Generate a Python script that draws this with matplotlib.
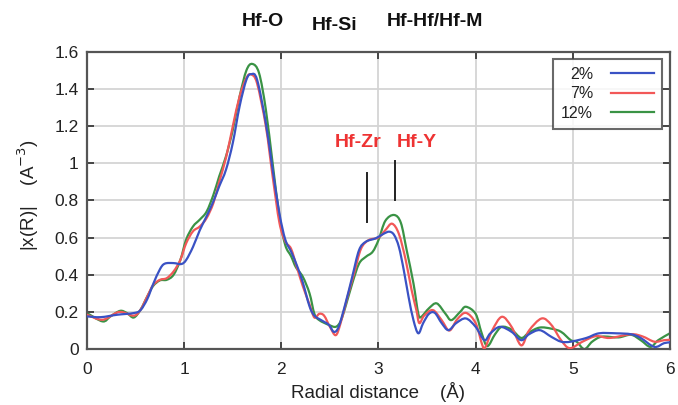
import matplotlib
matplotlib.use("Agg")
import matplotlib.pyplot as plt
import numpy as np
from matplotlib.path import Path
from matplotlib.patches import PathPatch
from matplotlib.lines import Line2D

# ---- data ----
x_2 = [0.00, 0.14, 0.31, 0.48, 0.55, 0.62, 0.68, 0.75, 0.80, 0.89, 0.97, 1.02, 1.09, 1.16,
       1.23, 1.30, 1.36, 1.43, 1.50, 1.57, 1.64, 1.69, 1.75, 1.84, 1.91, 1.98, 2.04, 2.10,
       2.16, 2.22, 2.29, 2.34, 2.41, 2.49, 2.54, 2.59, 2.66, 2.73, 2.80, 2.87, 2.97, 3.05,
       3.11, 3.16, 3.21, 3.26, 3.31, 3.36, 3.41, 3.46, 3.52, 3.58, 3.65, 3.72, 3.80, 3.90,
       4.00, 4.09, 4.15, 4.25, 4.37, 4.47, 4.55, 4.66, 4.78, 4.88, 4.98, 5.14, 5.27, 5.45,
       5.60, 5.70, 5.84, 5.94, 6.00]
y_2 = [0.176, 0.172, 0.185, 0.194, 0.21, 0.27, 0.35, 0.43, 0.46, 0.463, 0.458, 0.48, 0.55, 0.64,
       0.715, 0.795, 0.876, 0.966, 1.11, 1.307, 1.45, 1.48, 1.45, 1.217, 0.966, 0.73, 0.59, 0.525,
       0.45, 0.36, 0.23, 0.18, 0.156, 0.13, 0.093, 0.12, 0.246, 0.39, 0.533, 0.578, 0.596, 0.62,
       0.632, 0.615, 0.55, 0.426, 0.28, 0.156, 0.085, 0.14, 0.19, 0.195, 0.14, 0.102, 0.14, 0.165,
       0.12, 0.048, 0.084, 0.12, 0.093, 0.048, 0.08, 0.102, 0.066, 0.04, 0.04, 0.06, 0.085, 0.085,
       0.08, 0.06, 0.012, 0.032, 0.036]

x_7 = [0.00, 0.16, 0.33, 0.48, 0.55, 0.62, 0.68, 0.75, 0.82, 0.89, 0.96, 1.02, 1.09, 1.16,
       1.23, 1.30, 1.36, 1.43, 1.50, 1.57, 1.64, 1.69, 1.75, 1.84, 1.91, 1.98, 2.04, 2.10,
       2.16, 2.22, 2.29, 2.34, 2.39, 2.44, 2.50, 2.56, 2.61, 2.68, 2.75, 2.82, 2.90, 3.00,
       3.07, 3.14, 3.21, 3.28, 3.34, 3.39, 3.42, 3.47, 3.56, 3.65, 3.73, 3.81, 3.90, 4.00,
       4.07, 4.10, 4.17, 4.27, 4.37, 4.47, 4.55, 4.68, 4.78, 4.88, 4.97, 5.10, 5.24, 5.38,
       5.60, 5.72, 5.84, 5.94, 6.00]
y_7 = [0.185, 0.158, 0.20, 0.18, 0.212, 0.284, 0.345, 0.373, 0.382, 0.418, 0.48, 0.57, 0.634, 0.66,
       0.705, 0.786, 0.90, 1.03, 1.20, 1.36, 1.46, 1.478, 1.43, 1.20, 0.93, 0.68, 0.58, 0.54,
       0.44, 0.34, 0.24, 0.17, 0.19, 0.18, 0.12, 0.075, 0.14, 0.28, 0.41, 0.54, 0.587, 0.60,
       0.64, 0.675, 0.62, 0.48, 0.32, 0.21, 0.14, 0.18, 0.21, 0.156, 0.10, 0.16, 0.195, 0.14,
       0.02, 0.01, 0.10, 0.174, 0.12, 0.02, 0.10, 0.165, 0.13, 0.048, 0.005, 0.04, 0.07, 0.06,
       0.08, 0.068, 0.04, 0.048, 0.05]

x_12 = [0.00, 0.16, 0.24, 0.34, 0.41, 0.48, 0.55, 0.62, 0.68, 0.75, 0.82, 0.89, 0.96, 1.02,
        1.09, 1.16, 1.23, 1.30, 1.36, 1.43, 1.50, 1.57, 1.64, 1.70, 1.77, 1.84, 1.91, 1.98,
        2.04, 2.10, 2.15, 2.22, 2.29, 2.34, 2.39, 2.49, 2.56, 2.61, 2.66, 2.73, 2.80, 2.87,
        2.94, 3.00, 3.07, 3.16, 3.23, 3.29, 3.36, 3.41, 3.44, 3.52, 3.60, 3.69, 3.75, 3.84,
        3.90, 4.00, 4.06, 4.12, 4.20, 4.27, 4.37, 4.47, 4.55, 4.66, 4.78, 4.88, 4.98, 5.04,
        5.12, 5.20, 5.30, 5.47, 5.60, 5.70, 5.80, 5.88, 6.00]
y_12 = [0.194, 0.149, 0.176, 0.206, 0.194, 0.17, 0.212, 0.284, 0.34, 0.37, 0.373, 0.40, 0.48, 0.59,
        0.66, 0.697, 0.74, 0.83, 0.93, 1.038, 1.18, 1.36, 1.50, 1.535, 1.486, 1.29, 1.0, 0.715,
        0.56, 0.50, 0.44, 0.39, 0.30, 0.19, 0.156, 0.13, 0.12, 0.15, 0.228, 0.354, 0.46, 0.497,
        0.524, 0.587, 0.69, 0.722, 0.68, 0.533, 0.354, 0.19, 0.174, 0.22, 0.246, 0.19, 0.156, 0.20,
        0.228, 0.19, 0.09, 0.016, 0.08, 0.12, 0.105, 0.06, 0.09, 0.116, 0.11, 0.093, 0.048, 0.04,
        0.0, 0.04, 0.067, 0.063, 0.077, 0.048, 0.012, 0.048, 0.085]

series_labels = ["2%", "7%", "12%"]
series_colors = ["#3a52c4", "#f25858", "#3a9345"]

x_ticks = [0, 1, 2, 3, 4, 5, 6]
y_ticks = [0, 0.2, 0.4, 0.6, 0.8, 1.0, 1.2, 1.4, 1.6]
y_tick_labels = ["0", "0.2", "0.4", "0.6", "0.8", "1", "1.2", "1.4", "1.6"]

top_labels = ["Hf-O", "Hf-Si", "Hf-Hf/Hf-M"]
marker_labels = ["Hf-Zr", "Hf-Y"]
marker_text_x = [2.795, 3.39]
marker_text_y = [1.11, 1.11]
marker_line_x = [2.885, 3.173]
marker_line_y0 = [0.686, 0.803]
marker_line_y1 = [0.95, 1.015]

plt.rcParams['font.family'] = ['Liberation Sans', 'DejaVu Sans']


def smooth_path(xv, yv):
    """Catmull-Rom style cubic Bezier path through the given data points."""
    p = np.column_stack([xv, yv]).astype(float)
    n = len(p)
    verts = [p[0]]
    codes = [Path.MOVETO]
    for i in range(n - 1):
        p0 = p[i - 1] if i > 0 else p[i]
        p1 = p[i]
        p2 = p[i + 1]
        p3 = p[i + 2] if i + 2 < n else p[i + 1]
        c1 = p1 + (p2 - p0) / 6.0
        c2 = p2 - (p3 - p1) / 6.0
        verts += [c1, c2, p2]
        codes += [Path.CURVE4, Path.CURVE4, Path.CURVE4]
    return Path(verts, codes)


fig = plt.figure(figsize=(6.78, 4.05), dpi=100)
ax = fig.add_axes([0.1285, 0.138, 0.8595, 0.734])

xs = [x_2, x_7, x_12]
ys = [y_2, y_7, y_12]
zorders = [4, 3, 2]
handles = []
for xv, yv, lab, col, zo in zip(xs, ys, series_labels, series_colors, zorders):
    patch = PathPatch(smooth_path(xv, yv), facecolor="none", edgecolor=col,
                      lw=1.6, zorder=zo, capstyle="round", joinstyle="round")
    ax.add_patch(patch)
    handles.append(Line2D([], [], color=col, lw=1.6, label=lab))

ax.set_xlim(0, 6)
ax.set_ylim(0, 1.6)
ax.set_xticks(x_ticks)
ax.set_xticklabels([str(t) for t in x_ticks])
ax.set_yticks(y_ticks)
ax.set_yticklabels(y_tick_labels)
ax.grid(True, color="#d4d4d4", lw=1.3, zorder=0)
ax.set_axisbelow(True)
for s in ax.spines.values():
    s.set_color("#555555")
    s.set_linewidth(1.6)
ax.tick_params(direction="in", top=True, right=True, length=5, width=1.4,
               color="#444444", labelsize=12.5, labelcolor="#222222")
ax.tick_params(axis="x", pad=9)
ax.tick_params(axis="y", pad=6)

# annotation markers
for lx, ly0, ly1 in zip(marker_line_x, marker_line_y0, marker_line_y1):
    ax.plot([lx, lx], [ly0, ly1], color="#222222", lw=1.4, zorder=5)
for t, tx, ty in zip(marker_labels, marker_text_x, marker_text_y):
    ax.text(tx, ty, t, color="#ee3333", fontsize=14, fontweight="bold",
            ha="center", va="center")

# top labels
top_pos = [(263, 22), (335, 25), (434.5, 22)]
for t, (px, py) in zip(top_labels, top_pos):
    fig.text(px / 678, 1 - py / 405, t, fontsize=14, fontweight="bold",
             ha="center", va="center", color="#111111")

ax.set_xlabel("Radial distance    (Å)", fontsize=13.5, color="#222222", labelpad=4)
fig.text(28 / 678, 1 - 195 / 405, "|x(R)|    (A$^{-3}$)", rotation=90,
         fontsize=13.5, color="#222222", ha="center", va="center")

leg = ax.legend(handles=handles, loc="upper right", markerfirst=False, fontsize=11.5,
                frameon=True, fancybox=False, edgecolor="#444444", handlelength=2.7,
                handletextpad=1.1, labelspacing=0.28, borderpad=0.5, borderaxespad=0,
                bbox_to_anchor=(0.986, 0.976))
leg.get_frame().set_linewidth(1.5)
for t in leg.get_texts():
    t.set_color("#222222")

fig.savefig("out.png", dpi=100)
